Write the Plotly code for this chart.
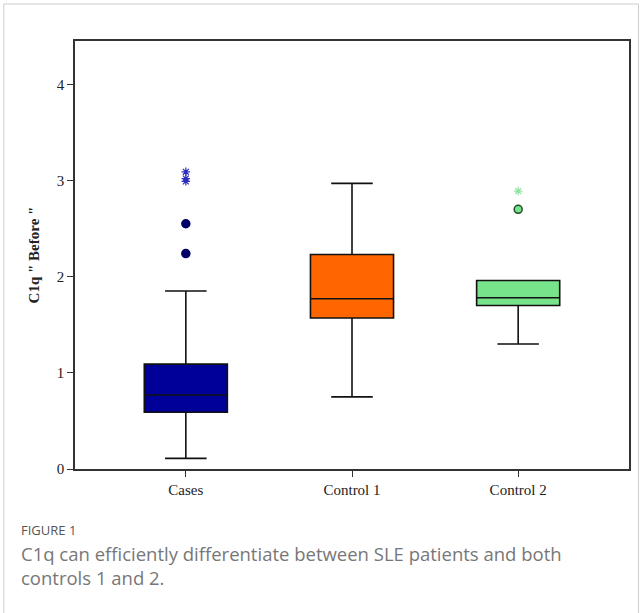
import plotly.graph_objects as go

categories = ["Cases", "Control 1", "Control 2"]
q1 = [0.59, 1.57, 1.70]
median = [0.77, 1.77, 1.78]
q3 = [1.09, 2.23, 1.96]
lower = [0.11, 0.75, 1.30]
upper = [1.85, 2.97, 1.96]
fills = ["#000099", "#FF6600", "#77E38A"]

# outliers: (category, value)
circle_cat = ["Cases", "Cases", "Control 2"]
circle_val = [2.24, 2.55, 2.70]
circle_fill = ["#000066", "#000066", "#77E38A"]
circle_line = ["#000066", "#000066", "#1f4d2a"]
star_cat = ["Cases", "Cases", "Cases", "Control 2"]
star_val = [3.09, 3.02, 2.99, 2.89]
star_col = ["#2b2bbf", "#2b2bbf", "#2b2bbf", "#8fe3a0"]

yticks = [0, 1, 2, 3, 4]

fig = go.Figure()
for i, c in enumerate(categories):
    fig.add_trace(go.Box(
        x=[c], q1=[q1[i]], median=[median[i]], q3=[q3[i]],
        lowerfence=[lower[i]], upperfence=[upper[i]],
        fillcolor=fills[i], line=dict(color="#111111", width=1.6),
        width=0.5, whiskerwidth=0.5, boxpoints=False, showlegend=False,
    ))

fig.add_trace(go.Scatter(
    x=circle_cat, y=circle_val, mode="markers", showlegend=False,
    marker=dict(symbol="circle", size=8, color=circle_fill,
                line=dict(color=circle_line, width=1.5)),
))
fig.add_trace(go.Scatter(
    x=star_cat, y=star_val, mode="markers", showlegend=False,
    marker=dict(symbol="asterisk-open", size=7, color=star_col,
                line=dict(color=star_col, width=1.2)),
))

L, R, T, B = 75, 10, 41, 144
W, H = 641, 613
pw, ph = W - L - R, H - T - B

def px(x):
    return (x - L) / pw

def py(y):
    return (H - B - y) / ph

tick_font = dict(family="Liberation Serif", size=15, color="#222")

fig.update_layout(
    width=W, height=H,
    margin=dict(l=L, r=R, t=T, b=B),
    paper_bgcolor="white", plot_bgcolor="white",
    font=dict(family="Liberation Serif", color="#222"),
    xaxis=dict(
        type="category", categoryorder="array", categoryarray=categories,
        range=[-0.667, 2.667], showline=True, mirror=True,
        linecolor="#333", linewidth=1.5, ticks="outside", ticklen=6,
        tickcolor="#333", tickfont=tick_font,
        showgrid=False, zeroline=False,
    ),
    yaxis=dict(
        range=[0, 4.45], tickvals=yticks, showline=True, mirror=True,
        linecolor="#333", linewidth=1.5, ticks="outside", ticklen=6,
        tickcolor="#333", tickfont=tick_font,
        showgrid=False, zeroline=False,
        title=dict(text="<b>C1q \" Before \"</b>", standoff=14,
                   font=dict(family="Liberation Serif", size=15, color="#222")),
    ),
    shapes=[dict(
        type="rect", xref="paper", yref="paper",
        x0=px(3.5), x1=px(640.5), y0=py(640), y1=py(4),
        line=dict(color="#cccccc", width=1), fillcolor="rgba(0,0,0,0)", layer="below",
    )],
    annotations=[
        dict(xref="paper", yref="paper", x=px(19), y=py(530), xanchor="left", yanchor="middle",
             text="FIGURE 1", showarrow=False,
             font=dict(family="Open Sans", size=13, color="#555")),
        dict(xref="paper", yref="paper", x=px(19), y=py(553), xanchor="left", yanchor="middle",
             text="C1q can efficiently differentiate between SLE patients and both",
             showarrow=False, font=dict(family="Open Sans", size=18.5, color="#777")),
        dict(xref="paper", yref="paper", x=px(19), y=py(577), xanchor="left", yanchor="middle",
             text="controls 1 and 2.",
             showarrow=False, font=dict(family="Open Sans", size=18.5, color="#777")),
    ],
)

fig.write_html("out.html", config={"displayModeBar": False},
               post_script="document.body.style.margin='0';")
